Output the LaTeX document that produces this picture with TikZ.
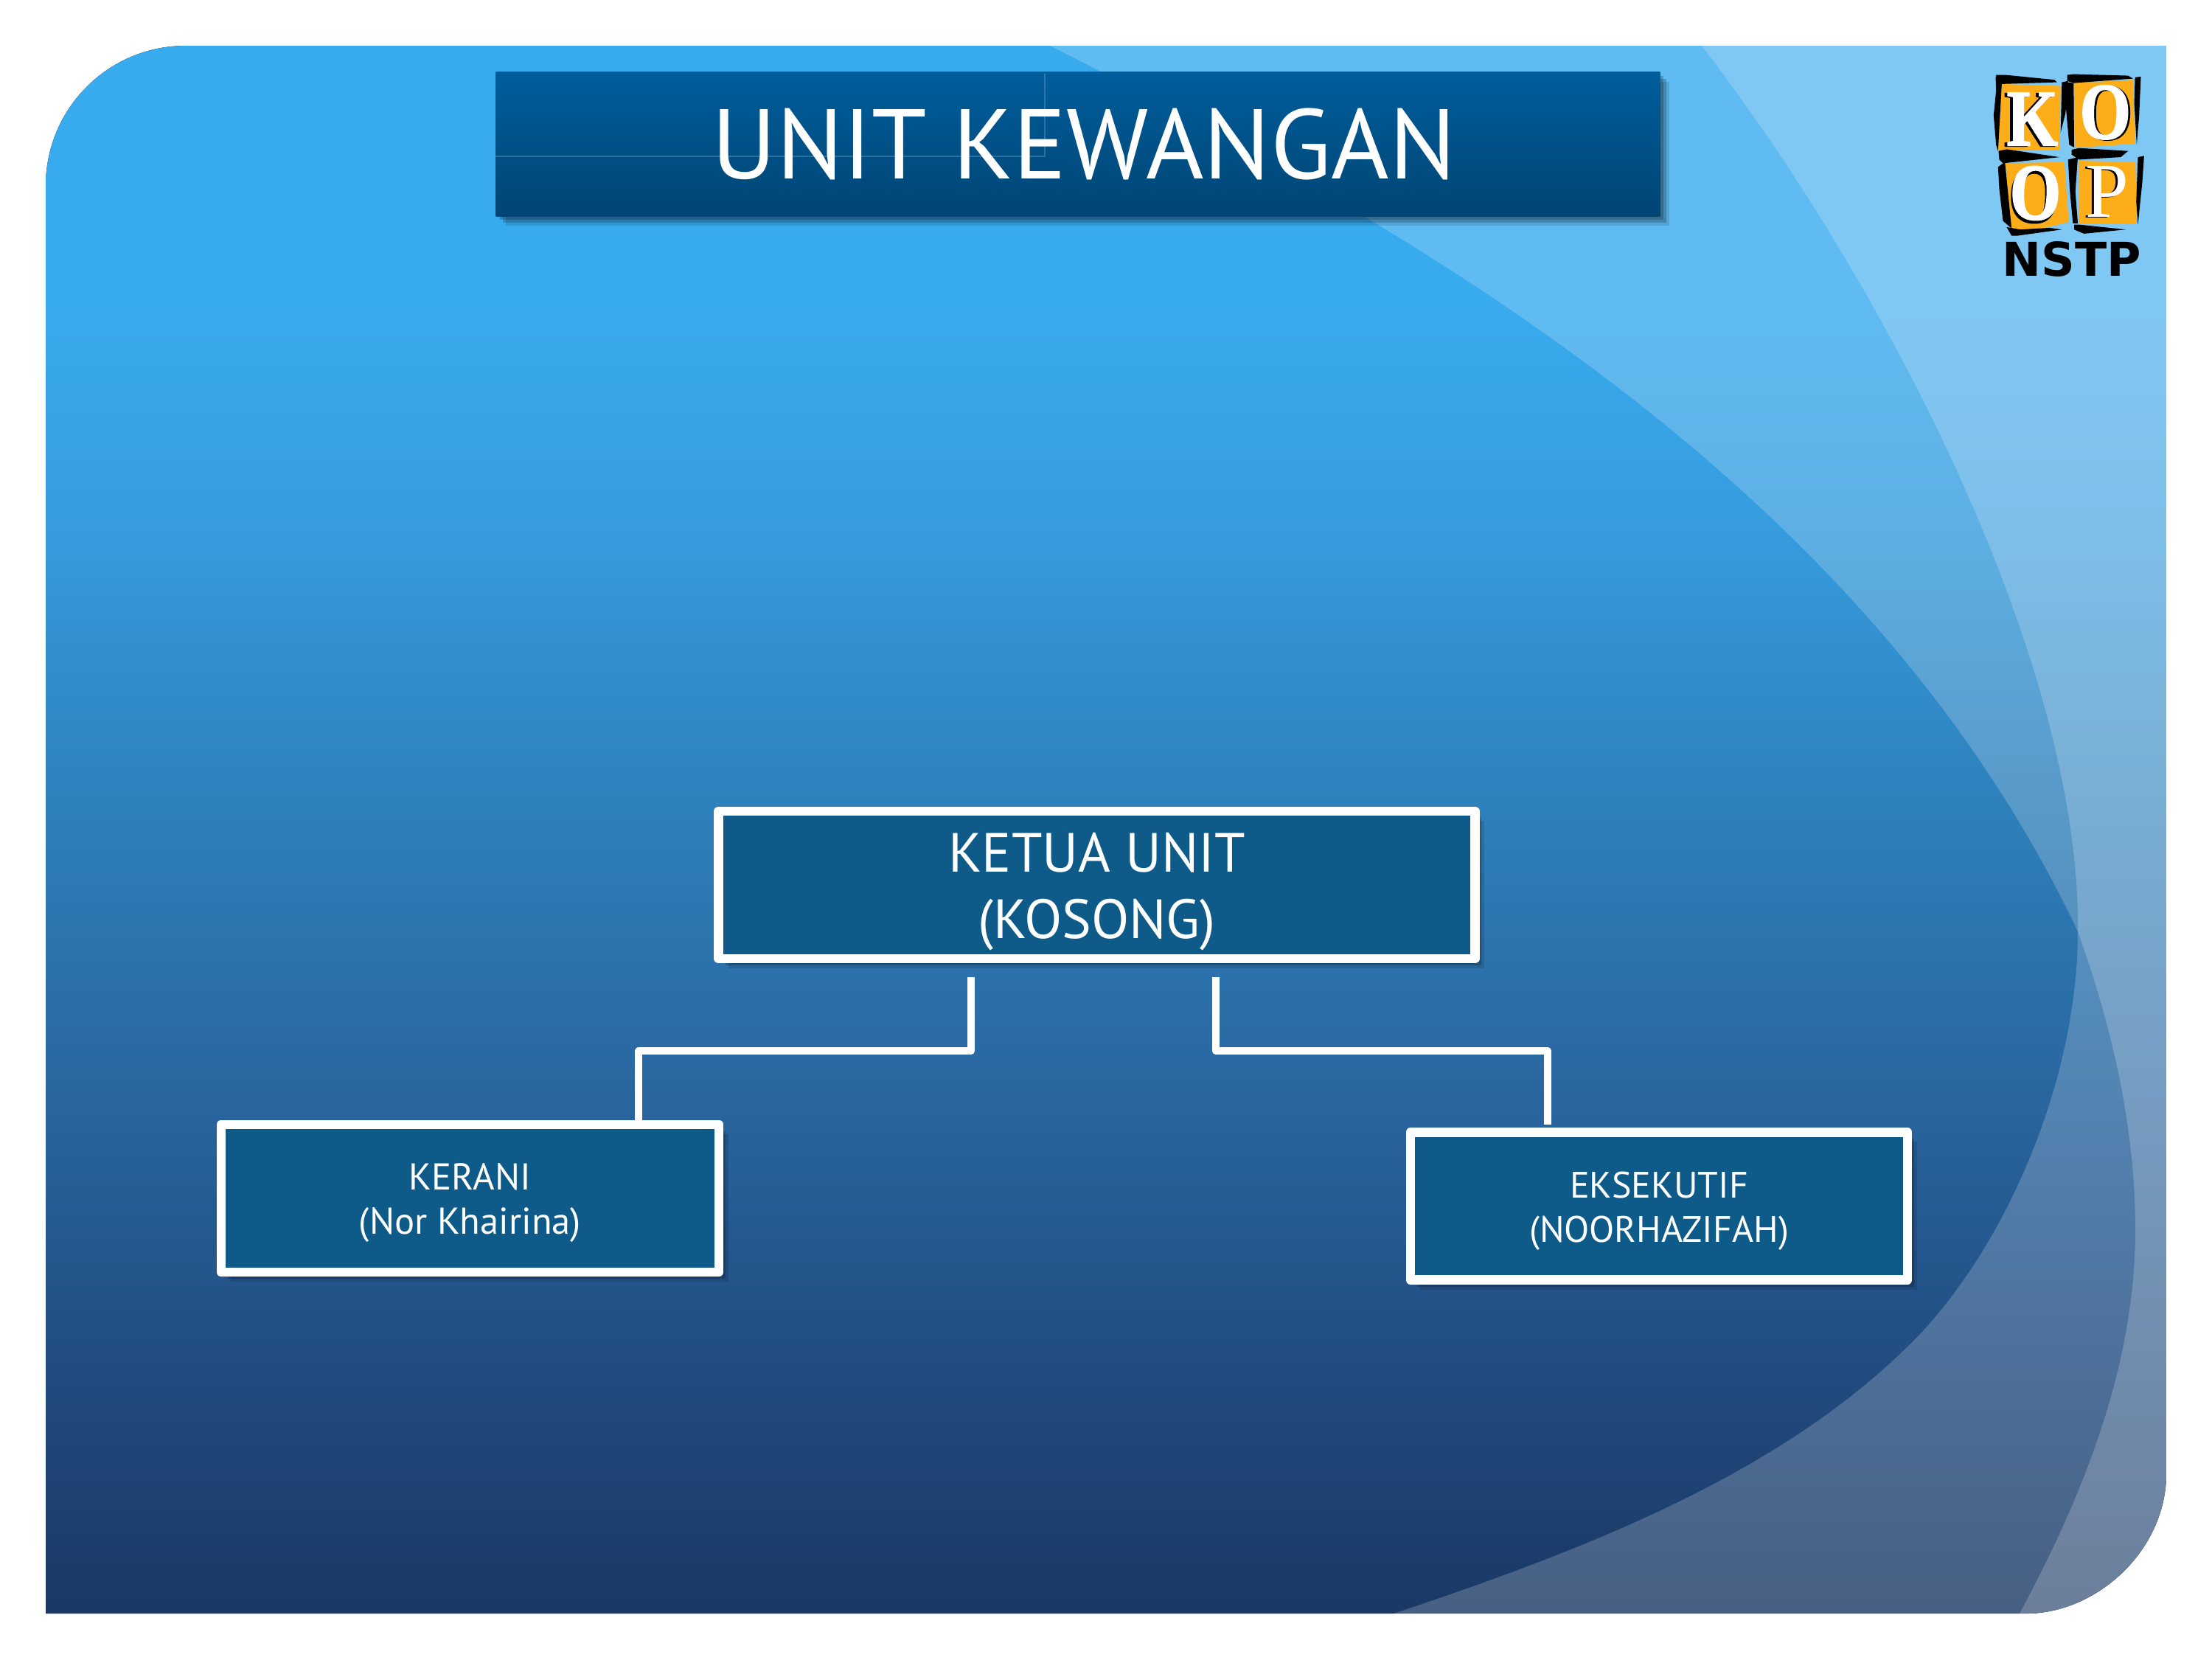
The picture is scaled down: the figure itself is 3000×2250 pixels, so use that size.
\documentclass[tikz,border=0pt]{standalone}
\usepackage{fontspec}
\setmainfont{PT Sans}
\newfontfamily\logoserif{Liberation Serif}
\newfontfamily\logoheavy{Liberation Serif Bold}[FakeBold=1.6]
\newfontfamily\logosans{DejaVu Sans}
\usetikzlibrary{shadows}

\definecolor{paneltop}{HTML}{38ABEE}
\definecolor{panelb}{HTML}{369DDF}
\definecolor{panelc}{HTML}{2E80BA}
\definecolor{paneld}{HTML}{29659F}
\definecolor{panele}{HTML}{20497C}
\definecolor{panelbot}{HTML}{1A3864}
\definecolor{boxfill}{HTML}{0E5A88}
\definecolor{titletop}{HTML}{005D9B}
\definecolor{titlebot}{HTML}{004574}
\definecolor{logoorange}{HTML}{FDAD18}

% the stops sit between 25bp and 75bp, the part that the path covers
\pgfdeclareverticalshading{panelshade}{100bp}{
  color(0bp)=(panelbot); color(25bp)=(panelbot); color(31.8bp)=(panele);
  color(41.2bp)=(paneld); color(50.6bp)=(panelc); color(60bp)=(panelb);
  color(67bp)=(paneltop); color(75bp)=(paneltop); color(100bp)=(paneltop)}

\tikzset{
  link/.style={draw=white,line width=.105cm,line join=round},
  softshadow/.style={drop shadow={shadow xshift=.05cm,shadow yshift=-.05cm,opacity=.2,fill=black},
    drop shadow={shadow xshift=.09cm,shadow yshift=-.09cm,opacity=.18,fill=black},
    drop shadow={shadow xshift=.13cm,shadow yshift=-.13cm,opacity=.12,fill=black}},
  brush/.style={fill=black},
  logopatch/.style={fill=logoorange}
}

\begin{document}
\begin{tikzpicture}[x=.01cm,y=-.01cm]
  \useasboundingbox (0,0) rectangle (3000,2250);

  % background panel and its two light sweeps
  \begin{scope}
    \clip (252,62) -- (2938,62) -- (2938,1998) .. controls (2938,2103) and (2843,2188) .. (2748,2188)
      -- (62,2188) -- (62,252) .. controls (62,147) and (147,62) .. (252,62) -- cycle;
    \fill[shading=panelshade] (62,62) rectangle (2938,2188);
    \fill[white,opacity=.2] (1360,30) -- (1424,62) .. controls (1915,310) and (2530,655) .. (2818,1263)
      .. controls (2860,1380) and (2896,1520) .. (2896,1667)
      .. controls (2896,1840) and (2835,2010) .. (2739,2188) -- (2700,2250)
      -- (3000,2250) -- (3000,0) -- (1360,0) -- cycle;
    \fill[white,opacity=.2] (2285,30) -- (2308,62) .. controls (2560,390) and (2822,900) .. (2818,1263)
      .. controls (2818,1460) and (2725,1680) .. (2604,1809)
      .. controls (2430,1990) and (2170,2095) .. (1890,2188) -- (1800,2250)
      -- (3000,2250) -- (3000,0) -- (2285,0) -- cycle;
  \end{scope}

  % title bar
  \node[minimum width=15.78cm,minimum height=1.95cm,inner sep=0,top color=titletop,bottom color=titlebot,
    text=white,font=\fontsize{38.2}{44}\selectfont,softshadow]
    (judul) at (1462,195.5) {\hspace*{.16cm}UNIT KEWANGAN};
  \draw[white,opacity=.18,line width=.4pt] (judul.west |- 0,212) -- (1417,212) -- (1417,100);

  % connectors
  \coordinate (stubL) at (1317,1325);
  \coordinate (stubR) at (1649,1325);
  \coordinate (endR) at (2099,1525);

  \begin{scope}[every node/.style={draw=white,fill=boxfill,text=white,line width=.125cm,
      line join=round,inner sep=0,align=center,softshadow}]
    \node[minimum width=10.25cm,minimum height=2cm,font=\fontsize{21.3}{25.6}\selectfont]
      (ketua) at (1487.5,1200) {\rule{0pt}{.72cm}KETUA UNIT\\(KOSONG)};
    \node[minimum width=6.75cm,minimum height=2cm,font=\fontsize{14.4}{17.07}\selectfont]
      (kerani) at (637.5,1625) {\rule{0pt}{.48cm}KERANI\\(Nor Khairina)};
    \node[minimum width=6.74cm,minimum height=2cm,font=\fontsize{14.2}{17.07}\selectfont]
      (eksekutif) at (2250,1635.5) {\rule{0pt}{.48cm}EKSEKUTIF\\(NOORHAZIFAH)};
  \end{scope}

  \draw[link] (stubL) |- (866,1425) -- (kerani.north -| 866,0);
  \draw[link] (stubR) |- (endR |- 0,1425) -- (endR);

  % logo, in the coordinates of a 3x crop
  \begin{scope}[shift={(2600,40)},x=.00333cm,y=-.00333cm]
    \fill[logopatch] (345,222) -- (585,230) -- (580,490) -- (330,495) -- cycle;
    \fill[logopatch] (638,218) -- (880,205) -- (888,465) -- (645,482) -- cycle;
    \fill[logopatch] (360,545) -- (600,540) -- (618,785) -- (385,840) -- cycle;
    \fill[logopatch] (660,535) -- (890,540) -- (895,790) -- (660,790) -- cycle;

    \fill[brush] (322,185) -- (360,185) -- (560,205) -- (570,215) -- (345,222) -- (325,225) -- cycle;
    \fill[brush] (320,190) -- (345,222) -- (330,495) -- (322,470) -- (312,350) -- (322,250) -- cycle;
    \fill[brush] (590,215) -- (615,210) -- (605,340) -- (585,420) -- cycle;
    \fill[brush] (612,185) -- (640,182) -- (860,188) -- (880,200) -- (640,218) -- (612,210) -- cycle;
    \fill[brush] (888,195) -- (912,192) -- (905,350) -- (895,470) -- (885,300) -- cycle;
    \fill[brush] (610,215) -- (638,218) -- (640,480) -- (620,470) -- (605,300) -- cycle;
    \fill[brush] (332,495) -- (365,488) -- (580,520) -- (350,545) -- (335,530) -- cycle;
    \fill[brush] (630,490) -- (660,483) -- (860,495) -- (830,520) -- (660,530) -- (630,510) -- cycle;
    \fill[brush] (330,560) -- (358,540) -- (385,810) -- (350,780) -- (335,650) -- cycle;
    \fill[brush] (365,805) -- (385,840) -- (410,840) -- (590,815) -- (540,808) -- (420,815) -- cycle;
    \fill[brush] (615,530) -- (655,520) -- (645,660) -- (655,790) -- (635,790) -- (622,650) -- cycle;
    \fill[brush] (900,520) -- (925,515) -- (918,620) -- (900,795) -- (893,700) -- cycle;
    \fill[brush] (640,795) -- (660,795) -- (850,815) -- (680,832) -- (640,815) -- cycle;

    \foreach \nm/\ltr/\cx/\cy/\dx/\dy/\ang in {lk/K/470/365/-12/3/0,lo/O/767/338/8/3/-1,
        lq/O/482/667/-6/12/-2}
      {
        \node[inner sep=0,xscale=.82,transform shape,rotate=\ang,font=\logoheavy\fontsize{31}{31}\selectfont]
          (\nm s) at (\cx+\dx,\cy+\dy) {\ltr};
        \node[inner sep=0,xscale=.82,transform shape,rotate=\ang,text=white,font=\logoheavy\fontsize{31}{31}\selectfont]
          (\nm) at (\cx,\cy) {\ltr};
      }
    \node[inner sep=0,transform shape,font=\logoserif\fontsize{30}{30}\selectfont] (lps) at (767,663) {P};
    \node[inner sep=0,transform shape,text=white,font=\logoserif\fontsize{30}{30}\selectfont] (lp) at (775,660) {P};
    \node[inner sep=0,font=\logosans\bfseries\fontsize{18}{18}\selectfont] (nstp) at (630,936) {NSTP};
  \end{scope}
\end{tikzpicture}
\end{document}
